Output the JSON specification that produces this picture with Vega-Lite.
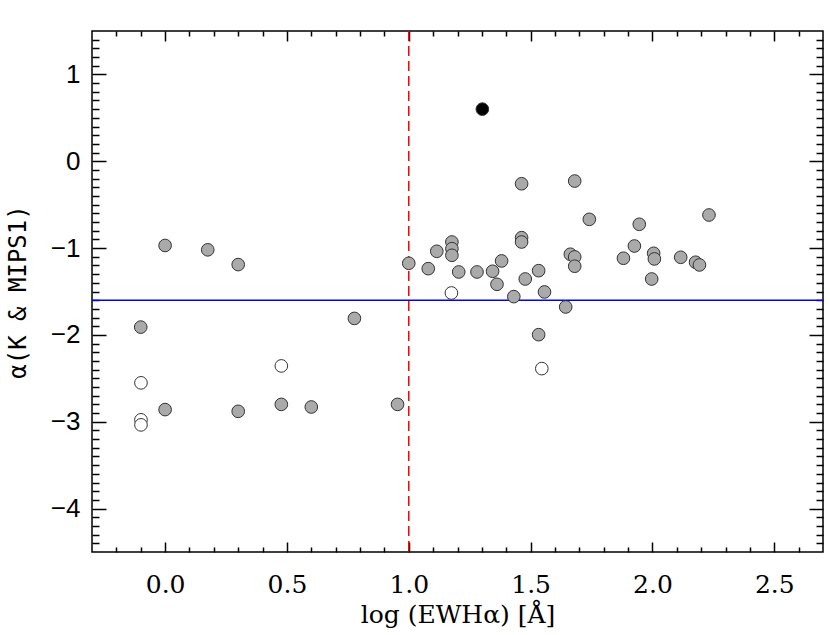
{
  "$schema": "https://vega.github.io/schema/vega-lite/v6.json",
  "width": 731,
  "height": 521,
  "autosize": {"type": "none"},
  "padding": {"left": 92, "top": 31, "right": 7, "bottom": 83},
  "background": "#ffffff",
  "config": {
    "view": {"stroke": "#000000", "strokeWidth": 1.5},
    "axis": {"grid": false, "domain": false, "tickColor": "#000000", "labelColor": "#000000", "titleColor": "#000000"}
  },
  "data": {
    "values": [
      {"x": -0.099, "y": -2.552, "kind": "open"},
      {"x": -0.099, "y": -2.978, "kind": "open"},
      {"x": -0.099, "y": -3.036, "kind": "open"},
      {"x": 0.477, "y": -2.357, "kind": "open"},
      {"x": 1.175, "y": -1.517, "kind": "open"},
      {"x": 1.546, "y": -2.388, "kind": "open"},
      {"x": 0.0, "y": -0.97, "kind": "gray"},
      {"x": 0.175, "y": -1.02, "kind": "gray"},
      {"x": 0.30, "y": -1.19, "kind": "gray"},
      {"x": -0.10, "y": -1.91, "kind": "gray"},
      {"x": 0.0, "y": -2.86, "kind": "gray"},
      {"x": 0.30, "y": -2.88, "kind": "gray"},
      {"x": 0.477, "y": -2.80, "kind": "gray"},
      {"x": 0.60, "y": -2.83, "kind": "gray"},
      {"x": 0.777, "y": -1.81, "kind": "gray"},
      {"x": 0.954, "y": -2.80, "kind": "gray"},
      {"x": 1.0, "y": -1.175, "kind": "gray"},
      {"x": 1.08, "y": -1.237, "kind": "gray"},
      {"x": 1.115, "y": -1.037, "kind": "gray"},
      {"x": 1.177, "y": -0.93, "kind": "gray"},
      {"x": 1.177, "y": -1.007, "kind": "gray"},
      {"x": 1.177, "y": -1.083, "kind": "gray"},
      {"x": 1.205, "y": -1.275, "kind": "gray"},
      {"x": 1.28, "y": -1.275, "kind": "gray"},
      {"x": 1.344, "y": -1.267, "kind": "gray"},
      {"x": 1.381, "y": -1.148, "kind": "gray"},
      {"x": 1.362, "y": -1.417, "kind": "gray"},
      {"x": 1.431, "y": -1.559, "kind": "gray"},
      {"x": 1.463, "y": -0.88, "kind": "gray"},
      {"x": 1.463, "y": -0.93, "kind": "gray"},
      {"x": 1.463, "y": -0.259, "kind": "gray"},
      {"x": 1.478, "y": -1.356, "kind": "gray"},
      {"x": 1.533, "y": -1.26, "kind": "gray"},
      {"x": 1.557, "y": -1.505, "kind": "gray"},
      {"x": 1.533, "y": -1.997, "kind": "gray"},
      {"x": 1.644, "y": -1.678, "kind": "gray"},
      {"x": 1.663, "y": -1.071, "kind": "gray"},
      {"x": 1.681, "y": -1.102, "kind": "gray"},
      {"x": 1.681, "y": -1.209, "kind": "gray"},
      {"x": 1.681, "y": -0.228, "kind": "gray"},
      {"x": 1.741, "y": -0.669, "kind": "gray"},
      {"x": 1.881, "y": -1.117, "kind": "gray"},
      {"x": 1.926, "y": -0.976, "kind": "gray"},
      {"x": 1.946, "y": -0.726, "kind": "gray"},
      {"x": 2.005, "y": -1.06, "kind": "gray"},
      {"x": 2.008, "y": -1.125, "kind": "gray"},
      {"x": 1.997, "y": -1.356, "kind": "gray"},
      {"x": 2.116, "y": -1.106, "kind": "gray"},
      {"x": 2.177, "y": -1.163, "kind": "gray"},
      {"x": 2.193, "y": -1.194, "kind": "gray"},
      {"x": 2.232, "y": -0.619, "kind": "gray"},
      {"x": 1.302, "y": 0.60, "kind": "black"}
    ]
  },
  "resolve": {"axis": {"x": "independent", "y": "independent"}},
  "layer": [
    {
      "mark": {"type": "point", "opacity": 0},
      "encoding": {
        "x": {"field": "x", "type": "quantitative", "scale": {"domain": [-0.3, 2.7], "nice": false, "zero": false},
          "axis": {"orient": "bottom", "labels": false, "title": null, "values": [0, 0.5, 1, 1.5, 2, 2.5], "tickSize": -10, "tickWidth": 1.5}},
        "y": {"field": "y", "type": "quantitative", "scale": {"domain": [-4.5, 1.5], "nice": false, "zero": false},
          "axis": {"orient": "left", "labels": false, "title": null, "values": [-4, -3, -2, -1, 0, 1], "tickSize": -14, "tickWidth": 1.5}}
      }
    },
    {
      "mark": {"type": "point", "opacity": 0},
      "encoding": {
        "x": {"field": "x", "type": "quantitative", "scale": {"domain": [-0.3, 2.7], "nice": false, "zero": false},
          "axis": {"orient": "bottom", "labels": false, "title": null, "values": [-0.2, -0.1, 0.1, 0.2, 0.3, 0.4, 0.6, 0.7, 0.8, 0.9, 1.1, 1.2, 1.3, 1.4, 1.6, 1.7, 1.8, 1.9, 2.1, 2.2, 2.3, 2.4, 2.6], "tickSize": -5, "tickWidth": 1.5}},
        "y": {"field": "y", "type": "quantitative", "scale": {"domain": [-4.5, 1.5], "nice": false, "zero": false},
          "axis": {"orient": "left", "labels": false, "title": null, "values": [-4.4, -4.3, -4.2, -4.1, -3.9, -3.8, -3.7, -3.6, -3.5, -3.4, -3.3, -3.2, -3.1, -2.9, -2.8, -2.7, -2.6, -2.5, -2.4, -2.3, -2.2, -2.1, -1.9, -1.8, -1.7, -1.6, -1.5, -1.4, -1.3, -1.2, -1.1, -0.9, -0.8, -0.7, -0.6, -0.5, -0.4, -0.3, -0.2, -0.1, 0.1, 0.2, 0.3, 0.4, 0.5, 0.6, 0.7, 0.8, 0.9, 1.1, 1.2, 1.3, 1.4], "tickSize": -7, "tickWidth": 1.5}}
      }
    },
    {
      "mark": {"type": "point", "opacity": 0},
      "encoding": {
        "x": {"field": "x", "type": "quantitative", "scale": {"domain": [-0.3, 2.7], "nice": false, "zero": false},
          "axis": {"orient": "top", "labels": false, "title": null, "values": [0, 0.5, 1, 1.5, 2, 2.5], "tickSize": -10, "tickWidth": 1.5}},
        "y": {"field": "y", "type": "quantitative", "scale": {"domain": [-4.5, 1.5], "nice": false, "zero": false},
          "axis": {"orient": "right", "labels": false, "title": null, "values": [-4, -3, -2, -1, 0, 1], "tickSize": -14, "tickWidth": 1.5}}
      }
    },
    {
      "mark": {"type": "point", "opacity": 0},
      "encoding": {
        "x": {"field": "x", "type": "quantitative", "scale": {"domain": [-0.3, 2.7], "nice": false, "zero": false},
          "axis": {"orient": "top", "labels": false, "title": null, "values": [-0.2, -0.1, 0.1, 0.2, 0.3, 0.4, 0.6, 0.7, 0.8, 0.9, 1.1, 1.2, 1.3, 1.4, 1.6, 1.7, 1.8, 1.9, 2.1, 2.2, 2.3, 2.4, 2.6], "tickSize": -5, "tickWidth": 1.5}},
        "y": {"field": "y", "type": "quantitative", "scale": {"domain": [-4.5, 1.5], "nice": false, "zero": false},
          "axis": {"orient": "right", "labels": false, "title": null, "values": [-4.4, -4.3, -4.2, -4.1, -3.9, -3.8, -3.7, -3.6, -3.5, -3.4, -3.3, -3.2, -3.1, -2.9, -2.8, -2.7, -2.6, -2.5, -2.4, -2.3, -2.2, -2.1, -1.9, -1.8, -1.7, -1.6, -1.5, -1.4, -1.3, -1.2, -1.1, -0.9, -0.8, -0.7, -0.6, -0.5, -0.4, -0.3, -0.2, -0.1, 0.1, 0.2, 0.3, 0.4, 0.5, 0.6, 0.7, 0.8, 0.9, 1.1, 1.2, 1.3, 1.4], "tickSize": -7, "tickWidth": 1.5}}
      }
    },
    {
      "data": {"values": [{}]},
      "mark": {"type": "rule", "color": "#0000ff", "strokeWidth": 1.5},
      "encoding": {"y": {"datum": -1.6, "type": "quantitative", "axis": null}}
    },
    {
      "data": {"values": [{}]},
      "mark": {"type": "rule", "color": "#ff0000", "strokeWidth": 1.5, "strokeDash": [10, 5]},
      "encoding": {"x": {"datum": 1, "type": "quantitative", "axis": null}}
    },
    {
      "mark": {"type": "point", "shape": "circle", "filled": true, "size": 160, "stroke": "#333333", "strokeWidth": 1, "opacity": 1},
      "encoding": {
        "x": {"field": "x", "type": "quantitative", "scale": {"domain": [-0.3, 2.7], "nice": false, "zero": false},
          "axis": {"orient": "bottom", "ticks": false, "values": [0, 0.5, 1, 1.5, 2, 2.5], "format": ".1f", "labelPadding": 20, "labelFont": "DejaVu Serif", "labelFontSize": 25,
            "title": "log (EWHα) [Å]", "titleFont": "DejaVu Serif", "titleFontSize": 25, "titleFontWeight": "normal", "titlePadding": 5}},
        "y": {"field": "y", "type": "quantitative", "scale": {"domain": [-4.5, 1.5], "nice": false, "zero": false},
          "axis": {"orient": "left", "ticks": false, "values": [-4, -3, -2, -1, 0, 1], "format": "d", "labelPadding": 12, "labelFont": "Liberation Sans", "labelFontSize": 26,
            "title": "α(K & MIPS1)", "titleFont": "DejaVu Sans Mono", "titleFontSize": 24, "titleFontWeight": "normal", "titlePadding": 20}},
        "fill": {"field": "kind", "type": "nominal", "scale": {"domain": ["gray", "open", "black"], "range": ["#aaaaaa", "#ffffff", "#000000"]}, "legend": null}
      }
    }
  ]
}
